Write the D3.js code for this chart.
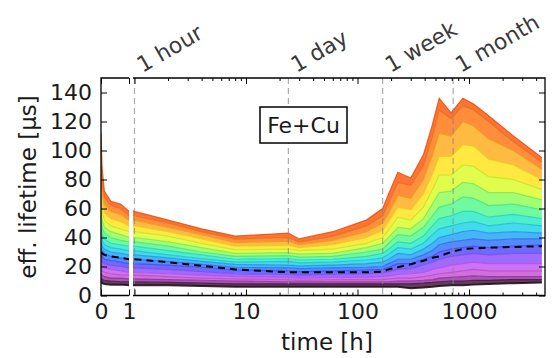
<!DOCTYPE html>
<html>
<head>
<meta charset="utf-8">
<script src="https://cdn.jsdelivr.net/npm/d3@7"></script>
<style>
  body { margin: 0; background: #fff; }
  svg { font-family: "DejaVu Sans", sans-serif; }
</style>
</head>
<body>
<svg id="chart" width="556" height="358"></svg>
<script>
// measurement times in hours (same grid for every curve)
const hours = [0, 0.04, 0.12, 0.35, 0.7, 1, 2, 4, 8, 24, 30, 60, 120, 168, 190, 230, 300, 390, 470, 540, 690, 880, 1100, 1500, 2500, 4500];

// lifetime curves in µs, lowest to highest
const curves = [
  [9, 8.5, 8, 7.5, 7.5, 7, 7, 6.5, 6, 6, 6, 6, 6, 6, 6, 6, 5, 5.5, 6, 6.5, 7, 7, 7.5, 8, 8.5, 9],
  [12, 11, 10.5, 10, 9.5, 9.5, 9, 8.5, 8, 8, 8, 8, 8, 8, 8, 8, 8, 8.5, 9, 9.5, 10, 10, 10.5, 10.5, 11, 11],
  [15, 14, 13, 12, 12, 11.5, 11, 10.5, 10, 9.5, 9.5, 9.5, 9.5, 9.5, 9.5, 10, 10, 10.5, 11, 12, 12.5, 13, 13.5, 13, 13, 13],
  [18, 17, 16, 15, 14, 14, 13, 12, 11.5, 11, 10.5, 11, 11, 11, 11.5, 12, 12, 13, 14, 15, 16, 17, 18, 17, 17, 17],
  [21, 20, 19, 18, 17, 16, 15, 14, 13, 12.5, 12, 12.5, 12.5, 13, 13.5, 14.5, 15, 16, 18, 19, 21, 22, 23, 22, 22, 22],
  [25, 23, 22, 21, 20, 19, 18, 16.5, 15, 14.5, 14, 14.5, 15, 15.5, 16.5, 18, 18.5, 21, 23, 25, 27, 28, 29, 28, 29, 29],
  [29, 27, 25, 24, 23, 22, 21, 19.5, 17.5, 17, 16.5, 17, 17.5, 18, 19.5, 22, 22, 25, 27, 30, 32, 33, 34, 33, 34, 35],
  [33, 31, 29, 27, 26, 25, 23.5, 21.5, 19.5, 19, 18.5, 19, 19.5, 20, 22, 25, 25, 28, 31, 35, 37, 38, 39, 38, 39, 39],
  [37, 34, 32, 30, 29, 28, 26, 23.5, 21.5, 21, 20.5, 21, 22, 23, 25, 29, 28, 32, 36, 40, 42, 44, 45, 43, 44, 43],
  [41, 38, 35, 33, 32, 31, 28, 25.5, 23, 23.5, 22.5, 23, 24.5, 26, 28.5, 33, 32, 36, 42, 46, 48, 50, 51, 48, 50, 48],
  [46, 42, 39, 36, 35, 34, 31, 28, 25, 25.5, 24.5, 25, 27, 29, 32, 37, 36, 41, 48, 53, 55, 58, 58, 54, 56, 53],
  [51, 47, 43, 40, 38, 37, 34, 30, 27, 27.5, 26.5, 27, 30, 32, 36, 42, 41, 47, 55, 61, 63, 68, 67, 62, 63, 59],
  [57, 52, 47, 44, 42, 40, 37, 33, 29, 29.5, 28.5, 29, 33, 36, 40, 47, 46, 53, 63, 71, 72, 78, 77, 71, 71, 66],
  [64, 58, 52, 48, 46, 44, 41, 36, 31.5, 32, 31, 32, 36, 40, 45, 54, 52, 61, 73, 83, 83, 90, 89, 82, 80, 73],
  [72, 64, 57, 53, 51, 48, 44, 39, 34, 34.5, 33, 35, 40, 45, 51, 61, 59, 70, 84, 96, 96, 104, 103, 94, 90, 80],
  [82, 72, 63, 58, 56, 52, 47, 42, 36.5, 37.5, 35, 38, 44, 50, 57, 69, 67, 80, 97, 112, 110, 120, 117, 108, 100, 87],
  [95, 80, 68, 62, 60, 55, 50, 44, 39, 40, 37, 41, 48, 55, 64, 78, 76, 90, 110, 128, 122, 131, 128, 120, 106, 92],
  [112, 88, 72, 65, 63, 58, 52, 46, 41, 43, 39, 44, 52, 60, 70, 85, 81, 97, 118, 136, 126, 136, 132, 124, 110, 95]
];

const medianCurve = [30, 29, 28, 27, 26, 25, 23, 20.5, 18, 16, 16, 16, 16, 16.5, 18, 19.5, 21.5, 24, 26, 27, 30, 32, 32.5, 33, 33.5, 34];

const yTicks = [0, 20, 40, 60, 80, 100, 120, 140];
const leftTicks = [0, 1];
const logTicks = [1, 10, 100, 1000];
const markerHours = [1, 24, 168, 720];
const markerLabels = ['1 hour', '1 day', '1 week', '1 month'];

const plotTop = 78, plotBottom = 295.5;
const svg = d3.select('#chart');

const y = d3.scaleLinear().domain([0, 150]).range([plotBottom, plotTop]);
const xLeft = d3.scaleLinear().domain([0, 1]).range([101, 129]);
const xRight = d3.scaleLog().domain([0.97, 4800]).range([133, 545]);

const color = d3.scaleLinear()
  .domain([0, 0.06, 0.12, 0.2, 0.28, 0.36, 0.44, 0.52, 0.6, 0.68, 0.76, 0.82, 0.88, 0.94, 1])
  .range(['#1e0a14', '#4a1a45', '#9a3aa8', '#e060ee', '#a050ff', '#4a50ff', '#2a8cff', '#20d0f0',
          '#30f0c0', '#70ff70', '#d8ff30', '#ffe820', '#ffb020', '#ff7a1a', '#ff5a10']);

const logMinor = [];
[1, 10, 100, 1000].forEach(d => {
  for (let k = 2; k <= 9; k++) if (d * k < 4800) logMinor.push(d * k);
});

function drawPanel(id, x, useZero) {
  const [x0, x1] = x.range();
  svg.append('clipPath').attr('id', id)
    .append('rect')
    .attr('x', x0).attr('y', plotTop)
    .attr('width', x1 - x0).attr('height', plotBottom - plotTop);

  const g = svg.append('g').attr('clip-path', `url(#${id})`);
  const idx = hours.map((h, i) => i).filter(i => useZero || hours[i] > 0);
  const n = curves.length - 1;

  for (let c = 1; c < curves.length; c++) {
    const lo = curves[c - 1], hi = curves[c];
    const area = d3.area()
      .x(i => x(hours[i]))
      .y0(i => y(lo[i]))
      .y1(i => y(hi[i]));
    g.append('path')
      .attr('d', area(idx))
      .attr('fill', color(c / n))
      .attr('opacity', 0.85);
  }

  curves.forEach((cv, c) => {
    const line = d3.line().x(i => x(hours[i])).y(i => y(cv[i]));
    g.append('path')
      .attr('d', line(idx))
      .attr('fill', 'none')
      .attr('stroke', d3.color(color(c / n)).darker(0.3))
      .attr('stroke-width', c === 0 ? 2 : 1.2)
      .attr('opacity', 0.85);
  });

  if (!useZero) {
    g.selectAll('.marker')
      .data(markerHours)
      .enter()
      .append('line')
      .attr('x1', d => x(d)).attr('x2', d => x(d))
      .attr('y1', plotTop).attr('y2', plotBottom)
      .attr('stroke', '#888')
      .attr('stroke-width', 1.2)
      .attr('stroke-dasharray', '6,4')
      .attr('opacity', 0.7);
  }

  const medLine = d3.line().x(i => x(hours[i])).y(i => y(medianCurve[i]));
  g.append('path')
    .attr('d', medLine(idx))
    .attr('fill', 'none')
    .attr('stroke', '#000')
    .attr('stroke-width', 2)
    .attr('stroke-dasharray', '7,5');
}

drawPanel('clipL', xLeft, true);
drawPanel('clipR', xRight, false);

function styleAxis(sel) {
  sel.attr('font-family', '"DejaVu Sans", sans-serif');
  sel.select('.domain').remove();
  sel.selectAll('text').attr('font-size', 22).attr('fill', '#1a1a1a');
  sel.selectAll('line').attr('stroke', '#000');
}

// left panel axes
svg.append('g').attr('transform', 'translate(101,0)')
  .call(d3.axisLeft(y).tickValues(yTicks).tickSizeInner(-6).tickSizeOuter(0).tickPadding(9))
  .call(styleAxis);
svg.append('g').attr('transform', `translate(0,${plotBottom})`)
  .call(d3.axisBottom(xLeft).tickValues(leftTicks).tickSizeInner(-6).tickSizeOuter(0).tickPadding(8).tickFormat(d3.format('d')))
  .call(styleAxis);
svg.append('g').attr('transform', `translate(0,${plotTop})`)
  .call(d3.axisTop(xLeft).tickValues(leftTicks).tickSizeInner(-6).tickSizeOuter(0).tickFormat(''))
  .call(styleAxis);

// right panel axes
svg.append('g').attr('transform', 'translate(545,0)')
  .call(d3.axisRight(y).tickValues(yTicks).tickSizeInner(-6).tickSizeOuter(0).tickFormat(''))
  .call(styleAxis);
svg.append('g').attr('transform', `translate(0,${plotBottom})`)
  .call(d3.axisBottom(xRight).tickValues(logTicks).tickSizeInner(-6).tickSizeOuter(0).tickPadding(8)
    .tickFormat(d => d === 1 ? '' : d3.format('d')(d)))
  .call(styleAxis);
svg.append('g').attr('transform', `translate(0,${plotBottom})`)
  .call(d3.axisBottom(xRight).tickValues(logMinor).tickSizeInner(-3).tickSizeOuter(0).tickFormat(''))
  .call(styleAxis);
svg.append('g').attr('transform', `translate(0,${plotTop})`)
  .call(d3.axisTop(xRight).tickValues(logTicks).tickSizeInner(-6).tickSizeOuter(0).tickFormat(''))
  .call(styleAxis);
svg.append('g').attr('transform', `translate(0,${plotTop})`)
  .call(d3.axisTop(xRight).tickValues(logMinor).tickSizeInner(-3).tickSizeOuter(0).tickFormat(''))
  .call(styleAxis);

// spines (broken axis: inner sides open)
svg.append('path')
  .attr('d', `M129,${plotTop}H101V${plotBottom}H129`)
  .attr('fill', 'none').attr('stroke', '#000').attr('stroke-width', 1.3);
svg.append('path')
  .attr('d', `M133,${plotTop}H545V${plotBottom}H133`)
  .attr('fill', 'none').attr('stroke', '#000').attr('stroke-width', 1.3);

// time markers above the axes
svg.selectAll('.mlabel')
  .data(markerHours)
  .enter()
  .append('text')
  .attr('transform', d => `translate(${xRight(d) + 8},73) rotate(-30)`)
  .attr('font-size', 22)
  .attr('fill', '#3a3a3a')
  .text((d, i) => markerLabels[i]);

// sample label
svg.append('rect')
  .attr('x', 260).attr('y', 107).attr('width', 87).attr('height', 36)
  .attr('fill', '#fff').attr('stroke', '#000').attr('stroke-width', 1.5);
svg.append('text')
  .attr('x', 303.5).attr('y', 125)
  .attr('text-anchor', 'middle').attr('dominant-baseline', 'central')
  .attr('font-size', 22)
  .attr('fill', '#1a1a1a')
  .text('Fe+Cu');

// axis titles
svg.append('text')
  .attr('transform', 'translate(36,187) rotate(-90)')
  .attr('text-anchor', 'middle')
  .attr('font-size', 23)
  .attr('fill', '#1a1a1a')
  .text('eff. lifetime [µs]');
svg.append('text')
  .attr('x', 327).attr('y', 350)
  .attr('text-anchor', 'middle')
  .attr('font-size', 23)
  .attr('fill', '#1a1a1a')
  .text('time [h]');
</script>
</body>
</html>
